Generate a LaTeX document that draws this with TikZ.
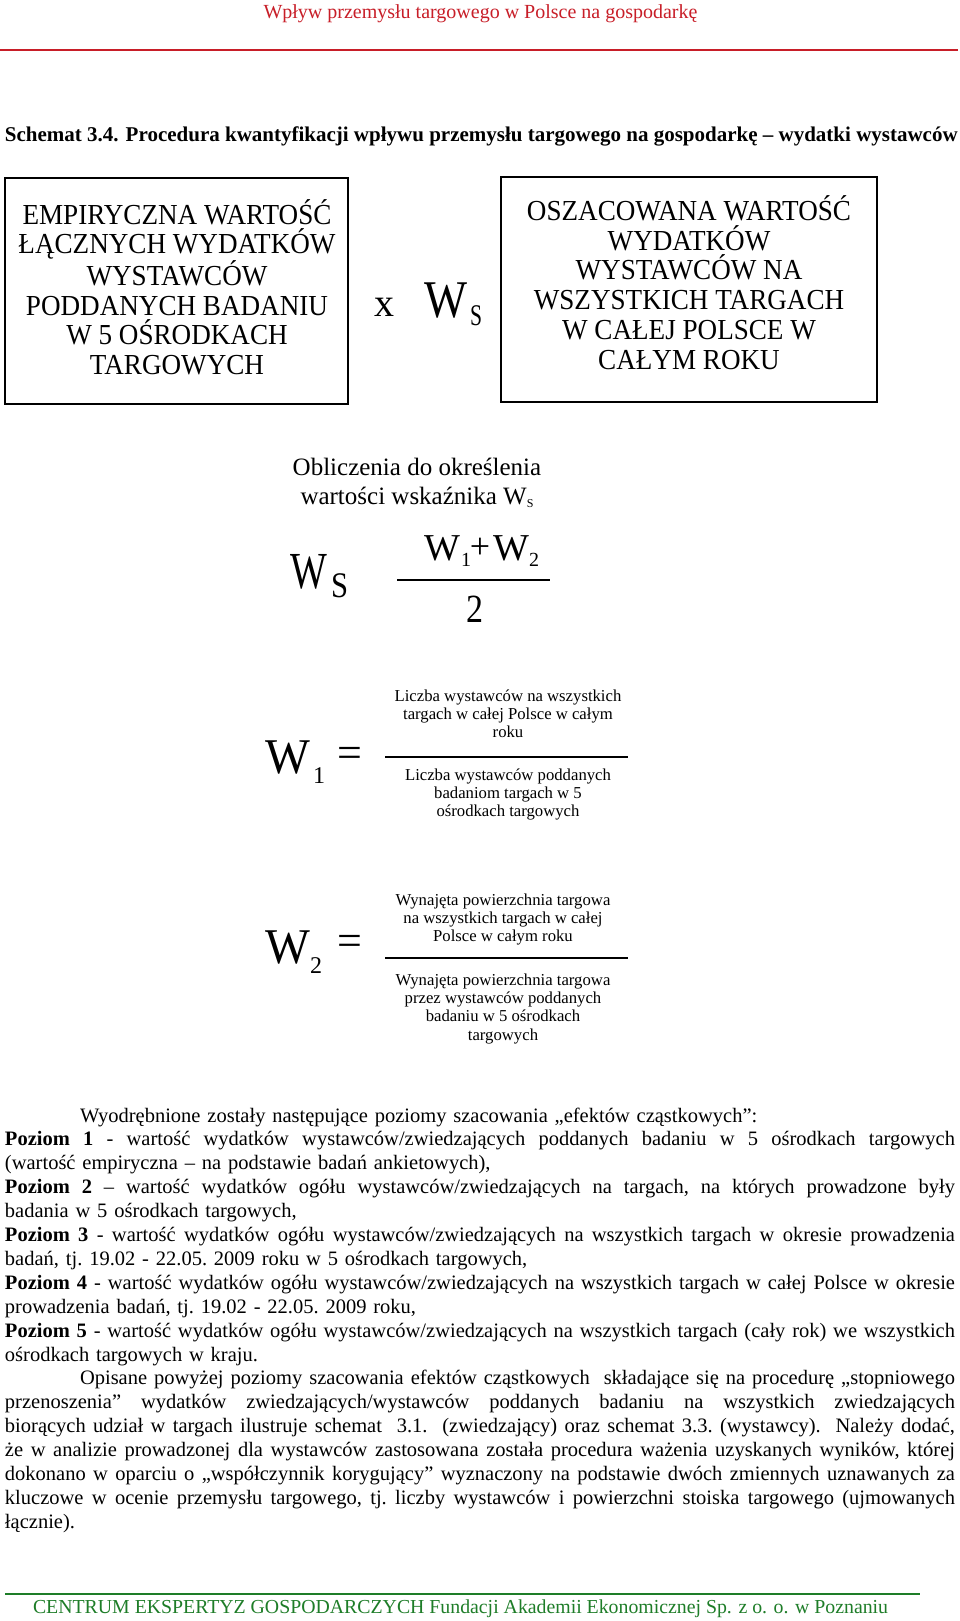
\documentclass[tikz,border=0pt]{standalone}
\usepackage{graphicx}
\usepackage{fontspec}
\setmainfont{Liberation Serif}
\newfontfamily\condf[FakeStretch=0.935]{Liberation Serif}
\definecolor{hdrred}{RGB}{200,30,40}
\definecolor{ftgreen}{RGB}{30,125,40}
\newcommand\myfs[2]{\fontsize{#1}{#2}\selectfont}
\newcommand\myjl[1]{\noindent{\spaceskip=0.25em plus 2em minus 0.08em\xspaceskip=\spaceskip\hbox to 950pt{#1}}\par}
\newcommand\myll[1]{\noindent\hbox{#1}\par}
\tikzset{
  boxst/.style={draw, line width=2pt, anchor=north west},
  bigtxt/.style={anchor=base, align=center, font=\condf\myfs{29}{29.7}},
  smalltxt/.style={anchor=base, align=center, font=\myfs{16.7}{18.3}},
  fracline/.style={line width=1.5pt},
}
\begin{document}
\begin{tikzpicture}[x=1pt,y=-1pt, every node/.style={inner sep=0pt, outer sep=0pt}]
\fill[white] (0,0) rectangle (960,1621);
\useasboundingbox (0,0) rectangle (960,1621);

% header
\node[anchor=base, text=hdrred, font=\myfs{20}{24}] (hdr) at (480.5,19) {Wpływ przemysłu targowego w Polsce na gospodarkę};
\coordinate (hl1) at (0,50); \coordinate (hl2) at (958,50);
\draw[hdrred, line width=1.5pt] (hl1) -- (hl2);

% title
\node[anchor=base west, font=\myfs{21}{24}\bfseries] (title) at (5,142) {Schemat 3.4. Procedura kwantyfikacji wpływu przemysłu targowego na gospodarkę – wydatki wystawców};

% boxes (base anchor of a multi-line node = its last line)
\node[boxst, minimum width=343pt, minimum height=226pt] (box1) at (5,178) {};
\node[boxst, minimum width=376pt, minimum height=225pt] (box2) at (501,177) {};
\node[bigtxt] (t1) at (177,374.5) {EMPIRYCZNA WARTOŚĆ\\ŁĄCZNYCH WYDATKÓW\\WYSTAWCÓW\\PODDANYCH BADANIU\\W 5 OŚRODKACH\\TARGOWYCH};
\node[bigtxt] (t2) at (689,369) {OSZACOWANA WARTOŚĆ\\WYDATKÓW\\WYSTAWCÓW NA\\WSZYSTKICH TARGACH\\W CAŁEJ POLSCE W\\CAŁYM ROKU};
\node[anchor=base, font=\myfs{40}{40}] (xmul) at (384,316) {x};
\node[anchor=base west, font=\myfs{53}{53}] (wsa) at (424,317) {\scalebox{0.86}[1]{W}};
\node[anchor=base west, font=\myfs{30}{30}] (wsas) at (470,325) {\scalebox{0.72}[1]{S}};

% obliczenia
\node[anchor=base, align=center, font=\myfs{25}{28.5}] (obl) at (417,504) {Obliczenia do określenia\\wartości wskaźnika W\raisebox{-3pt}{\myfs{12}{12}S}};

% Ws = (W1+W2)/2
\node[anchor=base west, font=\myfs{52}{52}] (wsb) at (290,588) {\scalebox{0.75}[1]{W}};
\node[anchor=base west, font=\myfs{36}{36}] (wsbs) at (331,597) {\scalebox{0.85}[1]{S}};
\node[anchor=base west, font=\myfs{38}{38}] (nw1) at (424,560) {W};
\node[anchor=base west, font=\myfs{20}{20}] (nw1s) at (461,566) {1};
\node[anchor=base, font=\myfs{36}{36}] (nplus) at (480,558) {+};
\node[anchor=base west, font=\myfs{38}{38}] (nw2) at (493,560) {W};
\node[anchor=base west, font=\myfs{20}{20}] (nw2s) at (529,566) {2};
\coordinate (fa) at (397,580); \coordinate (fb) at (550,580);
\draw[fracline] (fa) -- (fb);
\node[anchor=base, font=\myfs{40}{40}] (den) at (475,622) {\scalebox{0.85}[1]{2}};

% W1
\node[anchor=base west, font=\myfs{50}{50}] (w1) at (265,773) {\scalebox{0.95}[1]{W}};
\node[anchor=base west, font=\myfs{24}{24}] (w1s) at (313,783) {1};
\node[anchor=center, font=\myfs{44}{44}] (eq1) at (349.5,757) {=};
\coordinate (f1a) at (385,757); \coordinate (f1b) at (628,757);
\draw[fracline] (f1a) -- (f1b);
\node[smalltxt] (w1num) at (508,737.6) {Liczba wystawców na wszystkich\\targach w całej Polsce w całym\\roku};
\node[smalltxt] (w1den) at (508,816.6) {Liczba wystawców poddanych\\badaniom targach w 5\\ośrodkach targowych};

% W2
\node[anchor=base west, font=\myfs{50}{50}] (w2) at (265,963) {\scalebox{0.95}[1]{W}};
\node[anchor=base west, font=\myfs{24}{24}] (w2s) at (310,973) {2};
\node[anchor=center, font=\myfs{44}{44}] (eq2) at (349.5,945) {=};
\coordinate (f2a) at (385,958); \coordinate (f2b) at (628,958);
\draw[fracline] (f2a) -- (f2b);
\node[smalltxt] (w2num) at (503,941.6) {Wynajęta powierzchnia targowa\\na wszystkich targach w całej\\Polsce w całym roku};
\node[smalltxt] (w2den) at (503,1040) {Wynajęta powierzchnia targowa\\przez wystawców poddanych\\badaniu w 5 ośrodkach\\targowych};

% body text
\node[anchor=base west, text width=950pt, font=\myfs{20.5}{23.9}] (body) at (5,1122) {%
\parindent=0pt\parskip=0pt\frenchspacing
\myll{\hskip75pt Wyodrębnione zostały następujące poziomy szacowania „efektów cząstkowych”:}
\myjl{\textbf{Poziom 1} - wartość wydatków wystawców/zwiedzających poddanych badaniu w 5 ośrodkach targowych}
\myll{(wartość empiryczna – na podstawie badań ankietowych),}
\myjl{\textbf{Poziom 2} – wartość wydatków ogółu wystawców/zwiedzających na targach, na których prowadzone były}
\myll{badania w 5 ośrodkach targowych,}
\myjl{\textbf{Poziom 3} - wartość wydatków ogółu wystawców/zwiedzających na wszystkich targach w okresie prowadzenia}
\myll{badań, tj. 19.02 - 22.05. 2009 roku w 5 ośrodkach targowych,}
\myjl{\textbf{Poziom 4} - wartość wydatków ogółu wystawców/zwiedzających na wszystkich targach w całej Polsce w okresie}
\myll{prowadzenia badań, tj. 19.02 - 22.05. 2009 roku,}
\myjl{\textbf{Poziom 5} - wartość wydatków ogółu wystawców/zwiedzających na wszystkich targach (cały rok) we wszystkich}
\myll{ośrodkach targowych w kraju.}
\myjl{\hskip75pt Opisane powyżej poziomy szacowania efektów cząstkowych\ \ składające się na procedurę „stopniowego}
\myjl{przenoszenia” wydatków zwiedzających/wystawców poddanych badaniu na wszystkich zwiedzających}
\myjl{biorących udział w targach ilustruje schemat\ \ 3.1.\ \ (zwiedzający) oraz schemat 3.3. (wystawcy).\ \ Należy dodać,}
\myjl{że w analizie prowadzonej dla wystawców zastosowana została procedura ważenia uzyskanych wyników, której}
\myjl{dokonano w oparciu o „współczynnik korygujący” wyznaczony na podstawie dwóch zmiennych uznawanych za}
\myjl{kluczowe w ocenie przemysłu targowego, tj. liczby wystawców i powierzchni stoiska targowego (ujmowanych}
\myll{łącznie).}
};

% footer
\coordinate (fl1) at (5,1594); \coordinate (fl2) at (920,1594);
\draw[ftgreen, line width=1.5pt] (fl1) -- (fl2);
\node[anchor=base west, text=ftgreen, font=\myfs{19.8}{24}] (foot) at (33,1613) {CENTRUM EKSPERTYZ GOSPODARCZYCH Fundacji Akademii Ekonomicznej Sp. z o. o. w Poznaniu};
\end{tikzpicture}
\end{document}
